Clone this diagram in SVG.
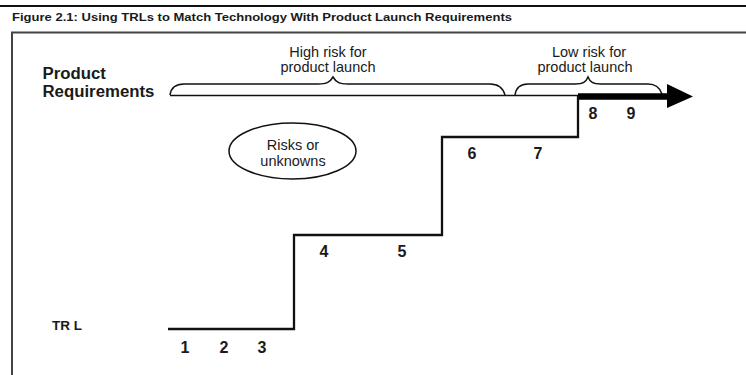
<svg xmlns="http://www.w3.org/2000/svg" width="746" height="375" viewBox="0 0 746 375">
  <defs>
    <style>
      .t { font-family: "Liberation Sans", Arial, sans-serif; fill: #1a1a1a; }
      .b { font-weight: bold; }
      .num { font-family: "Liberation Sans", Arial, sans-serif; font-weight: bold; font-size: 16px; fill: #1a1a1a; text-anchor: middle; }
      .lbl { font-family: "Liberation Sans", Arial, sans-serif; font-size: 14.5px; fill: #1a1a1a; text-anchor: middle; }
      .thin { fill: none; stroke: #111; stroke-width: 1.5; }
      .step { fill: none; stroke: #111; stroke-width: 2.3; stroke-linejoin: miter; }
    </style>
  </defs>
  <rect width="746" height="375" fill="#fff"/>

  <!-- figure header and frame -->
  <g id="header">
    <line x1="0" y1="6" x2="746" y2="6" stroke="#111" stroke-width="2"/>
    <text class="t b" x="12" y="21" font-size="11" textLength="500" lengthAdjust="spacingAndGlyphs">Figure 2.1:  Using TRLs to Match Technology With Product Launch Requirements</text>
    <line x1="11" y1="32.5" x2="746" y2="32.5" stroke="#444" stroke-width="2"/>
    <line x1="12" y1="32" x2="12" y2="375" stroke="#444" stroke-width="2"/>
  </g>

  <!-- axis labels -->
  <g id="product-requirements">
    <text class="t b" x="42.5" y="79" font-size="16.8">Product</text>
    <text class="t b" x="42.5" y="97" font-size="16.8">Requirements</text>
  </g>
  <g id="trl-label">
    <text class="t b" x="52" y="330" font-size="13.5">TR L</text>
  </g>

  <!-- risk braces -->
  <g id="high-risk">
    <path class="thin" d="M170,95 C171,88 175,84 184,84 L318,84 C327,84 330,82 333,77 C336,82 339,84 348,84 L490,84 C499,84 503,88 505,95"/>
    <text class="lbl" x="328" y="57">High risk for</text>
    <text class="lbl" x="328" y="72">product launch</text>
  </g>
  <g id="low-risk">
    <path class="thin" d="M515,95 C516,88 520,84 528,84 L575,84 C583,84 586,82 588,77 C590,82 593,84 601,84 L648,84 C656,84 660,88 662,94"/>
    <text class="lbl" x="589" y="57">Low risk for</text>
    <text class="lbl" x="585" y="72">product launch</text>
  </g>

  <!-- risks bubble -->
  <g id="risks">
    <ellipse cx="292.5" cy="151" rx="63.5" ry="28" fill="#fff" stroke="#111" stroke-width="1.5"/>
    <text class="lbl" x="293" y="150">Risks or</text>
    <text class="lbl" x="293" y="166">unknowns</text>
  </g>

  <!-- connectors: requirement axis and TRL staircase -->
  <g id="connectors">
    <line x1="170" y1="95.5" x2="579" y2="95.5" stroke="#111" stroke-width="1.5"/>
    <line x1="578" y1="96.5" x2="668" y2="96.5" stroke="#000" stroke-width="6.5"/>
    <polygon points="667,84 693,96.5 667,108" fill="#000"/>
    <polyline class="step" points="168,329 294,329 294,235 442,235 442,137 578,137 578,96"/>
  </g>

  <!-- TRL numbers -->
  <g id="trl-numbers">
    <text class="num" x="185" y="353">1</text>
    <text class="num" x="224" y="353">2</text>
    <text class="num" x="262" y="353">3</text>
    <text class="num" x="324" y="257">4</text>
    <text class="num" x="402" y="257">5</text>
    <text class="num" x="472" y="159">6</text>
    <text class="num" x="538" y="159">7</text>
    <text class="num" x="593" y="119">8</text>
    <text class="num" x="631" y="119">9</text>
  </g>
</svg>
